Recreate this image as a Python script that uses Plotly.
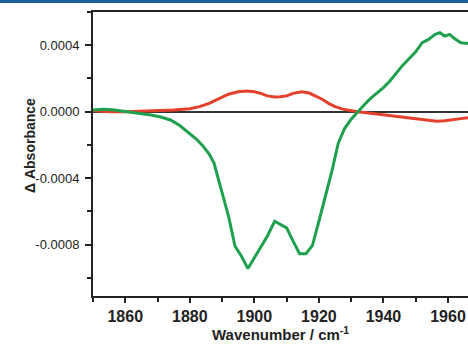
import plotly.graph_objects as go

# ---- data ----
green_wn = [1850, 1853, 1856, 1859, 1862, 1865, 1868, 1871, 1874, 1877, 1880, 1882, 1884,
            1886, 1887.5, 1889, 1890.5, 1892, 1894, 1896, 1898, 1900, 1902, 1904, 1906.3,
            1908, 1910, 1912, 1914, 1916, 1918, 1920, 1922, 1924, 1926, 1928, 1930, 1932,
            1934, 1936, 1938, 1940, 1942, 1944, 1946, 1948, 1950, 1952, 1954, 1956, 1957.5,
            1959, 1960.5, 1962, 1964, 1966.2]
green_abs = [0.10e-4, 0.15e-4, 0.12e-4, 0.05e-4, -0.05e-4, -0.12e-4, -0.20e-4, -0.32e-4,
             -0.50e-4, -0.85e-4, -1.30e-4, -1.65e-4, -2.05e-4, -2.55e-4, -3.10e-4, -4.20e-4,
             -5.30e-4, -6.30e-4, -8.10e-4, -8.70e-4, -9.45e-4, -8.80e-4, -8.20e-4, -7.50e-4,
             -6.60e-4, -6.80e-4, -7.00e-4, -7.80e-4, -8.55e-4, -8.55e-4, -8.05e-4, -6.60e-4,
             -5.10e-4, -3.60e-4, -1.90e-4, -1.00e-4, -0.45e-4, 0.00e-4, 0.40e-4, 0.80e-4,
             1.10e-4, 1.45e-4, 1.85e-4, 2.35e-4, 2.80e-4, 3.20e-4, 3.60e-4, 4.15e-4, 4.35e-4,
             4.65e-4, 4.75e-4, 4.55e-4, 4.65e-4, 4.40e-4, 4.15e-4, 4.10e-4]

red_wn = [1850, 1855, 1860, 1865, 1870, 1875, 1880, 1883, 1886, 1889, 1892, 1895, 1897.7,
          1900, 1902, 1904, 1906.3, 1908, 1910, 1912, 1914.7, 1917, 1919, 1921, 1923, 1925,
          1927.4, 1930, 1932, 1936, 1940, 1944, 1948, 1952, 1956.5, 1959, 1961.5, 1964, 1966.2]
red_abs = [0.05e-4, 0.00e-4, 0.00e-4, 0.02e-4, 0.05e-4, 0.10e-4, 0.18e-4, 0.30e-4, 0.50e-4,
           0.80e-4, 1.05e-4, 1.20e-4, 1.25e-4, 1.20e-4, 1.10e-4, 0.95e-4, 0.88e-4, 0.90e-4,
           0.95e-4, 1.10e-4, 1.20e-4, 1.12e-4, 0.95e-4, 0.75e-4, 0.50e-4, 0.30e-4, 0.15e-4,
           0.05e-4, 0.00e-4, -0.10e-4, -0.20e-4, -0.30e-4, -0.40e-4, -0.50e-4, -0.58e-4,
           -0.55e-4, -0.50e-4, -0.42e-4, -0.36e-4]

x_tickvals = [1860, 1880, 1900, 1920, 1940, 1960]
y_tickvals = [0.0004, 0.0, -0.0004, -0.0008]
y_ticktext = ["0.0004", "0.0000", "-0.0004", "-0.0008"]

W, H = 468, 347
ML, MR, MT, MB = 93, 0, 12, 51
PH = H - MT - MB
PW = W - ML - MR

FONT = "Liberation Sans, Arial, sans-serif"

fig = go.Figure()
fig.add_trace(go.Scatter(x=red_wn, y=red_abs, mode="lines",
                         line=dict(color="#e5402b", width=3), showlegend=False))
fig.add_trace(go.Scatter(x=green_wn, y=green_abs, mode="lines",
                         line=dict(color="#1ea04e", width=3), showlegend=False))

fig.update_layout(
    width=W, height=H,
    margin=dict(l=ML, r=MR, t=MT, b=MB, pad=0),
    paper_bgcolor="white", plot_bgcolor="white",
    font=dict(family=FONT, color="#222222"),
    xaxis=dict(
        range=[1850, 1966.2], showgrid=False, zeroline=False,
        showline=True, linecolor="#222222", linewidth=2, mirror=True,
        ticks="outside", ticklen=5, tickwidth=1.5, tickcolor="#222222",
        tickvals=x_tickvals,
        tickfont=dict(size=16, weight="bold", color="#222222"),
        minor=dict(dtick=10, tick0=1850, ticks="outside", ticklen=4, tickwidth=1.5,
                   tickcolor="#222222", showgrid=False),
        ticklabelstandoff=0,
    ),
    yaxis=dict(
        range=[-0.00111, 0.0006], showgrid=False,
        zeroline=True, zerolinecolor="#333333", zerolinewidth=2,
        showline=True, linecolor="#222222", linewidth=2, mirror=False,
        ticks="outside", ticklen=6, tickwidth=1.5, tickcolor="#222222",
        tickvals=y_tickvals, ticktext=y_ticktext,
        tickfont=dict(size=13, color="#222222"),
        minor=dict(dtick=0.0002, tick0=0, ticks="outside", ticklen=4, tickwidth=1.5,
                   tickcolor="#222222", showgrid=False),
        ticklabelstandoff=3,
    ),
    annotations=[
        dict(text="Δ Absorbance", xref="paper", yref="paper",
             x=(30 - ML) / PW, y=(H - MB - 145) / PH, textangle=-90,
             showarrow=False, xanchor="center", yanchor="middle",
             font=dict(size=14, weight="bold", color="#222222")),
        dict(text="Wavenumber / cm<sup>-1</sup>", xref="paper", yref="paper",
             x=0.5, y=(H - MB - 345) / PH, showarrow=False,
             xanchor="center", yanchor="bottom",
             font=dict(size=15, weight="bold", color="#222222")),
    ],
    shapes=[
        dict(type="rect", xref="paper", yref="paper",
             x0=-ML / PW, x1=1.0, y0=(H - MB - 3) / PH, y1=(H - MB) / PH + 0.01,
             fillcolor="#1c5c9a", line=dict(width=0), layer="above"),
    ],
)

fig.write_html("out.html")
